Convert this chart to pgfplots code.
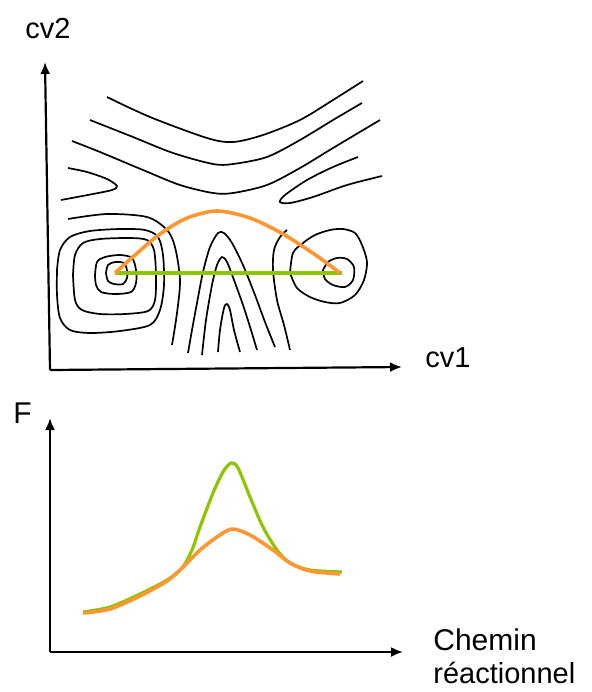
\documentclass[border=0pt]{standalone}
\usepackage{fontspec}
\setmainfont{Liberation Sans}
\usepackage{pgfplots}
\pgfplotsset{compat=1.18}
\usetikzlibrary{arrows.meta}
\definecolor{pathgreen}{RGB}{141,198,0}
\definecolor{pathorange}{RGB}{255,150,50}

\begin{document}
\begin{tikzpicture}
% one axis in picture coordinates (pixels of the reference, y downwards)
\begin{axis}[
  scale only axis, width=295.5pt, height=346pt,
  xmin=0, xmax=591, ymin=0, ymax=692, y dir=reverse,
  hide axis, clip=false,
]
% keep the whole frame in the bounding box
\path (rel axis cs:0,0) rectangle (rel axis cs:1,1);
% --- top panel: axes ---
\addplot[black, line width=1.1pt, -{Latex[length=6pt,width=5pt]}] coordinates {(50,370) (45,62)};
\addplot[black, line width=1.1pt, -{Latex[length=6pt,width=5pt]}] coordinates {(50,370) (402,367)};
% --- contours ---
\addplot[black, line width=0.85pt, smooth] coordinates {(107,97) (150,117) (207,138) (233,142) (263,135) (300,120) (333,100) (363,81)};
\addplot[black, line width=0.85pt, smooth] coordinates {(90,120) (133,137) (173,153) (213,164) (233,164) (267,157) (300,140) (333,120) (362,103)};
\addplot[black, line width=0.85pt, smooth] coordinates {(72,141) (100,152) (143,170) (180,185) (213,193) (233,193) (267,185) (300,168) (333,148) (380,120)};
\addplot[black, line width=0.85pt, smooth] coordinates {(68,168) (87,172) (107,179) (117,186) (112,190) (93,194) (61,200)};
\addplot[black, line width=0.85pt, smooth] coordinates {(358,157) (333,167) (307,180) (285,195) (280,202) (290,203) (313,197) (347,185) (382,176)};
\addplot[black, line width=0.85pt, smooth] coordinates {(68,219) (107,214) (147,217) (167,230) (175,247) (180,280) (177,313) (172,345)};
% left basin
\addplot[black, line width=0.85pt, smooth] coordinates {(57,270) (60,250) (70,237) (90,231) (120,229) (145,230) (158,237) (163,255) (164,285) (160,310) (150,325) (120,331) (90,333) (70,330) (60,318) (57,295) (57,270)};
\addplot[black, line width=0.85pt, smooth] coordinates {(73,275) (75,255) (83,243) (100,239) (130,238) (147,240) (154,250) (156,275) (155,300) (148,311) (125,314) (100,314) (82,310) (75,300) (73,275)};
\addplot[black, line width=0.85pt, smooth] coordinates {(95,275) (97,262) (105,257) (120,255) (132,258) (136,270) (136,283) (131,292) (115,294) (101,292) (96,285) (95,275)};
\addplot[black, line width=0.85pt, smooth] coordinates {(106,273) (108,265) (115,262) (124,263) (127,270) (127,278) (123,284) (114,284) (108,281) (106,273)};
% central arches
\addplot[black, line width=0.85pt, smooth] coordinates {(188,353) (192,330) (197,303) (203,272) (210,247) (218,233) (224,233) (232,243) (243,265) (255,295) (265,322) (275,347)};
\addplot[black, line width=0.85pt, smooth] coordinates {(202,355) (206,320) (212,285) (217,265) (222,257) (227,262) (234,280) (243,305) (251,330) (257,350)};
\addplot[black, line width=0.85pt, smooth] coordinates {(218,352) (220,330) (224,308) (227,304) (230,310) (234,330) (240,352)};
\addplot[black, line width=0.85pt, smooth] coordinates {(290,350) (284,325) (277,300) (273,270) (274,250) (280,237) (287,230)};
% right basin
\addplot[black, line width=0.85pt, smooth] coordinates {(290,273) (293,253) (303,243) (315,235) (330,230) (343,229) (355,233) (362,245) (367,262) (364,280) (355,295) (340,303) (325,302) (310,297) (297,288) (290,273)};
\addplot[black, line width=0.85pt, smooth] coordinates {(323,270) (328,262) (337,258) (347,259) (354,267) (353,280) (345,287) (333,285) (325,279) (323,270)};
% paths
\addplot[pathgreen, line width=1.7pt] coordinates {(115,273) (342,273)};
\addplot[pathorange, line width=1.8pt, smooth] coordinates {(115,273) (135,255) (160,234) (187,218) (217,211) (250,218) (283,234) (317,256) (340,273)};
% labels
\node[anchor=base west, inner sep=0pt, font=\fontsize{14.5}{16}\selectfont] at (axis cs:25,38) {cv2};
\node[anchor=base west, inner sep=0pt, font=\fontsize{14.5}{16}\selectfont] at (axis cs:425,367) {cv1};

% --- bottom panel ---
\addplot[black, line width=1.1pt, -{Latex[length=6pt,width=5pt]}] coordinates {(50,652) (50,418)};
\addplot[black, line width=1.1pt, -{Latex[length=6pt,width=5pt]}] coordinates {(50,652) (403,652)};
\addplot[pathgreen, line width=1.6pt, smooth] coordinates {(83,612) (110,607) (140,594) (167,580) (182,568) (192,550) (200,527) (213,493) (223,472) (231,463) (238,468) (250,497) (263,527) (277,550) (290,563) (310,570) (342,572)};
\addplot[pathorange, line width=1.8pt, smooth] coordinates {(83,613) (110,609) (140,596) (167,581) (182,568) (200,550) (217,537) (232,529) (250,535) (273,550) (290,563) (310,571) (340,574)};
\node[anchor=base west, inner sep=0pt, font=\fontsize{15}{18}\selectfont] at (axis cs:13,423) {F};
\node[anchor=base west, inner sep=0pt, font=\fontsize{15}{18}\selectfont] at (axis cs:433,650) {Chemin};
\node[anchor=base west, inner sep=0pt, font=\fontsize{14.5}{18}\selectfont] at (axis cs:433,683) {réactionnel};
\end{axis}
\end{tikzpicture}
\end{document}
